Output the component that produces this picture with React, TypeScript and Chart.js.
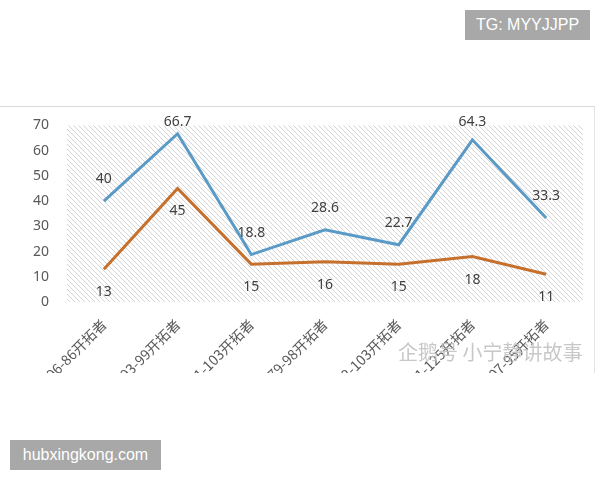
import React, { useEffect, useRef } from "react";
import { Chart, registerables } from "chart.js";

Chart.register(...registerables);

const categories = [
  "1996-86开拓者",
  "1993-99开拓者",
  "2011-103开拓者",
  "1979-98开拓者",
  "2002-103开拓者",
  "2011-125开拓者",
  "1907-95开拓者",
];
const blueValues = [40, 66.7, 18.8, 28.6, 22.7, 64.3, 33.3];
const orangeValues = [13, 45, 15, 16, 15, 18, 11];
const yTicks = [0, 10, 20, 30, 40, 50, 60, 70];

const hatchPlugin = {
  id: "hatch",
  beforeDraw(chart: any) {
    const { ctx, chartArea } = chart;
    const tile = document.createElement("canvas");
    tile.width = 5;
    tile.height = 5;
    const t = tile.getContext("2d")!;
    t.fillStyle = "#ffffff";
    t.fillRect(0, 0, 5, 5);
    t.strokeStyle = "#d4d4d4";
    t.lineWidth = 1;
    t.beginPath();
    t.moveTo(-1, -1);
    t.lineTo(6, 6);
    t.moveTo(-1, 4);
    t.lineTo(1, 6);
    t.moveTo(4, -1);
    t.lineTo(6, 1);
    t.stroke();
    const pat = ctx.createPattern(tile, "repeat");
    ctx.save();
    ctx.fillStyle = pat;
    ctx.fillRect(chartArea.left, chartArea.top, chartArea.right - chartArea.left, chartArea.bottom - chartArea.top);
    ctx.restore();
  },
};

const labelPlugin = {
  id: "valueLabels",
  afterDatasetsDraw(chart: any) {
    const { ctx, chartArea } = chart;
    ctx.save();
    ctx.font = '14px "Noto Sans", "DejaVu Sans", sans-serif';
    ctx.fillStyle = "#404040";
    ctx.textAlign = "center";
    ctx.textBaseline = "middle";
    chart.data.datasets.forEach((ds: any, i: number) => {
      const meta = chart.getDatasetMeta(i);
      meta.data.forEach((pt: any, j: number) => {
        const v = ds.data[j];
        const y = i === 0 ? Math.max(pt.y - 22, chartArea.top - 3) : pt.y + 23;
        ctx.fillText(String(v), pt.x, y);
      });
    });
    ctx.restore();
  },
};

export default function App() {
  const ref = useRef<HTMLCanvasElement | null>(null);
  useEffect(() => {
    document.body.style.margin = "0";
    const chart = new Chart(ref.current!, {
      type: "line",
      data: {
        labels: categories,
        datasets: [
          {
            data: blueValues,
            borderColor: "#5a9ac6",
            borderWidth: 3,
            pointRadius: 0,
            tension: 0,
            fill: false,
          },
          {
            data: orangeValues,
            borderColor: "#c6702e",
            borderWidth: 3,
            pointRadius: 0,
            tension: 0,
            fill: false,
          },
        ],
      },
      options: {
        responsive: false,
        animation: false,
        layout: { padding: { top: 18, right: 11, left: 0, bottom: 0 } },
        plugins: { legend: { display: false }, tooltip: { enabled: false } },
        scales: {
          x: {
            offset: true,
            grid: { display: false },
            border: { display: false },
            ticks: {
              autoSkip: false,
              minRotation: 45,
              maxRotation: 45,
              color: "#595959",
              font: { size: 14, family: '"Noto Sans CJK SC", "Noto Sans", sans-serif' },
              padding: 6,
            },
            afterFit(scale: any) {
              scale.height = 145;
            },
          },
          y: {
            min: 0,
            max: 70,
            grid: { display: false },
            border: { display: false },
            afterBuildTicks(scale: any) {
              scale.ticks = yTicks.map((v) => ({ value: v }));
            },
            ticks: {
              color: "#595959",
              font: { size: 14, family: '"Noto Sans", "DejaVu Sans", sans-serif' },
              padding: 10,
            },
            afterFit(scale: any) {
              scale.width = 67;
            },
          },
        },
      },
      plugins: [hatchPlugin, labelPlugin],
    } as any);
    return () => chart.destroy();
  }, []);

  const boxStyle: React.CSSProperties = {
    position: "absolute",
    background: "#a8a8a8",
    color: "#ffffff",
    fontFamily: '"Liberation Sans", Arial, sans-serif',
    fontSize: 16,
    display: "flex",
    alignItems: "center",
    justifyContent: "center",
  };

  return (
    <div style={{ position: "relative", width: 600, height: 480, background: "#ffffff", overflow: "hidden" }}>
      <div
        style={{
          position: "absolute",
          left: 0,
          top: 106,
          width: 594,
          height: 266,
          overflow: "hidden",
          borderTop: "1px solid #dadada",
          borderRight: "1px solid #e4e4e4",
          background: "#ffffff",
        }}
      >
        <canvas ref={ref} width={594} height={340} style={{ display: "block", width: 594, height: 340 }} />
        <div
          style={{
            position: "absolute",
            left: 398,
            top: 230,
            fontFamily: '"Noto Sans CJK SC", sans-serif',
            fontSize: 20,
            color: "rgba(190,190,190,0.85)",
            whiteSpace: "nowrap",
          }}
        >
          企鹅号 小宁静讲故事
        </div>
      </div>
      <div style={{ ...boxStyle, left: 465, top: 10, width: 125, height: 30 }}>TG: MYYJJPP</div>
      <div style={{ ...boxStyle, left: 10, top: 440, width: 151, height: 30 }}>hubxingkong.com</div>
    </div>
  );
}
